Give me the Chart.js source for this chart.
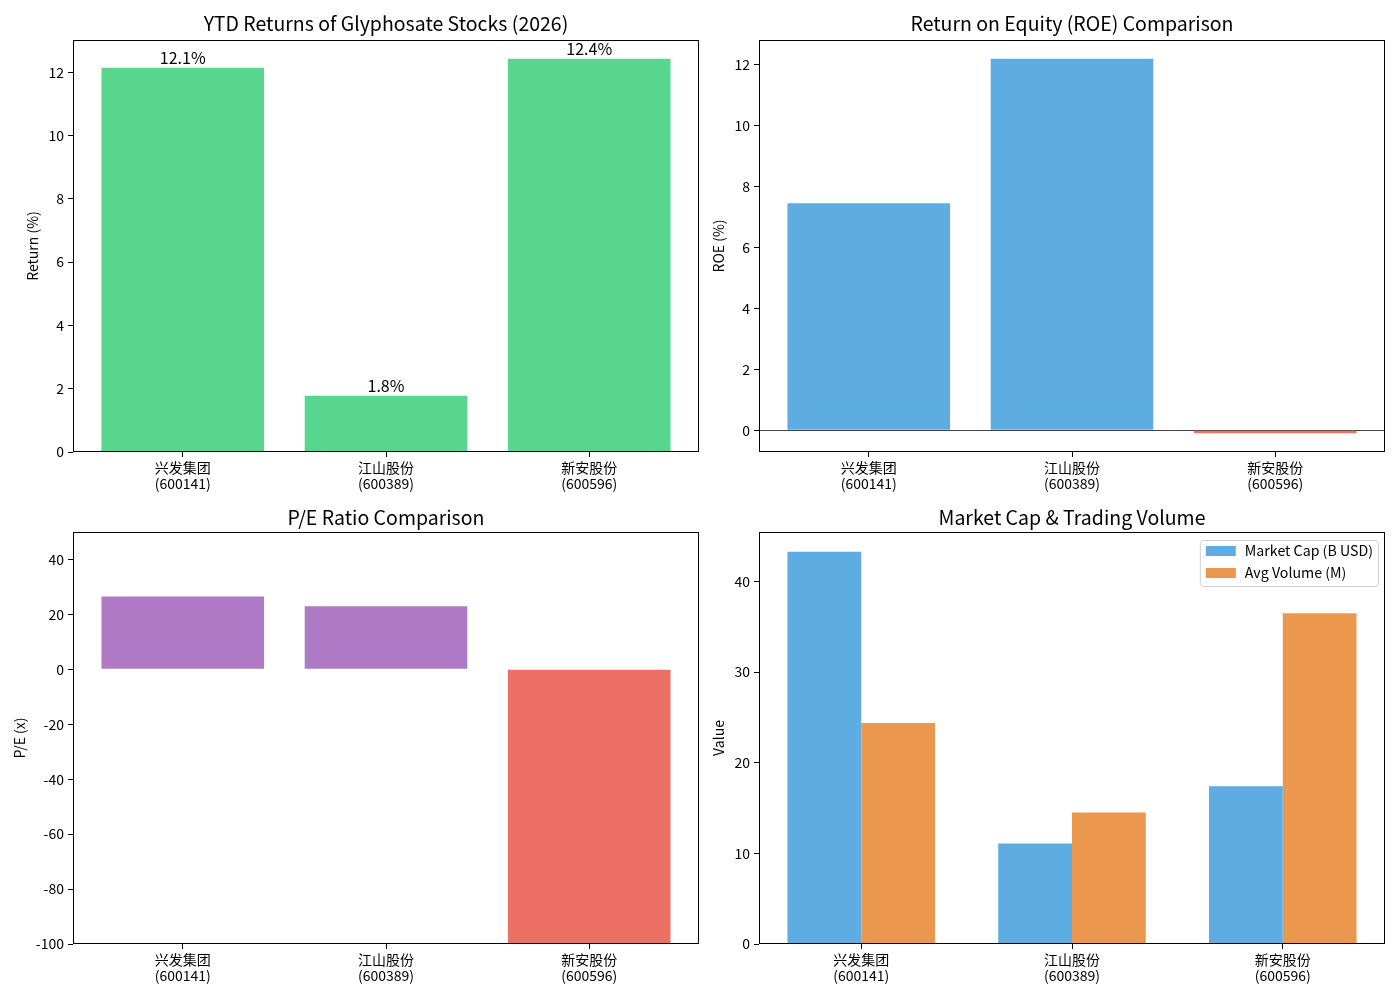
<!DOCTYPE html>
<html>
<head>
<meta charset="utf-8">
<script src="https://cdn.jsdelivr.net/npm/chart.js@4.4.0/dist/chart.umd.min.js"></script>
<style>
  body { margin: 0; background: #fff; }
  #figura { position: relative; width: 1400px; height: 1000px; background: #fff; }
  canvas { position: absolute; }
</style>
</head>
<body>
<div id="figura">
  <canvas id="cRetorno" width="700" height="500" style="left:0;top:0"></canvas>
  <canvas id="cRoe" width="700" height="500" style="left:700px;top:0"></canvas>
  <canvas id="cPe" width="700" height="500" style="left:0;top:500px"></canvas>
  <canvas id="cMercado" width="700" height="500" style="left:700px;top:500px"></canvas>
</div>
<script>
const empresas = [["兴发集团", "(600141)"], ["江山股份", "(600389)"], ["新安股份", "(600596)"]];
const retornoYtd = [12.14, 1.78, 12.43];
const roe = [7.45, 12.2, -0.1];
const pe = [26.5, 23.0, -150];
const marketCap = [43.3, 11.1, 17.4];
const avgVolume = [24.4, 14.5, 36.5];

const ticksRetorno = [0, 2, 4, 6, 8, 10, 12];
const ticksRoe = [0, 2, 4, 6, 8, 10, 12];
const ticksPe = [-100, -80, -60, -40, -20, 0, 20, 40];
const ticksMercado = [0, 10, 20, 30, 40];

const FONTE = '"Noto Sans CJK SC", "Noto Sans", sans-serif';
const VERDE = "#58D68D";
const AZUL = "#5DADE2";
const VERMELHO = "#EC7063";
const ROXO = "#AF7AC5";
const LARANJA = "#EB984E";

Chart.defaults.font.family = FONTE;
Chart.defaults.color = "#000";
Chart.defaults.animation = false;

function pontos(valores) {
  return valores.map((v, i) => ({ x: i, y: v }));
}

function eixoX(altura, xmin, xmax) {
  return {
    type: "linear",
    min: xmin,
    max: xmax,
    offset: false,
    grid: { display: true, offset: false, drawOnChartArea: false, drawTicks: true, tickLength: 5, tickColor: "#000" },
    border: { display: false },
    ticks: {
      autoSkip: false,
      maxRotation: 0,
      padding: 3,
      font: { size: 14, lineHeight: 1.15 },
      callback: (v) => empresas[v],
    },
    afterBuildTicks: (s) => {
      s.ticks = [0, 1, 2].map((v) => ({ value: v }));
    },
    afterFit: (s) => {
      s.height = altura;
    },
  };
}

function eixoY(min, max, valores, titulo, padTitulo, largura, linhaZero) {
  return {
    min,
    max,
    grid: {
      display: true,
      drawOnChartArea: linhaZero,
      drawTicks: true,
      tickLength: 5,
      tickColor: "#000",
      color: (ctx) => (ctx.tick && ctx.tick.value === 0 ? "#444" : "rgba(0,0,0,0)"),
      lineWidth: 1,
    },
    border: { display: false },
    ticks: { padding: 4, font: { size: 14 }, callback: (v) => String(v) },
    afterBuildTicks: (s) => {
      s.ticks = valores.map((v) => ({ value: v }));
    },
    title: {
      display: true,
      text: titulo,
      font: { size: 14, lineHeight: 1.2 },
      padding: { top: padTitulo, bottom: 0 },
    },
    afterFit: (s) => {
      s.width = largura;
    },
  };
}

function titulo(texto, padTop, padBottom) {
  return {
    display: true,
    text: texto,
    fullSize: false,
    color: "#000",
    font: { size: 19.5, weight: "normal", lineHeight: 1.2 },
    padding: { top: padTop, bottom: padBottom },
  };
}

// moldura preta em volta da area do grafico (como os spines do matplotlib)
const moldura = {
  id: "moldura",
  afterDatasetsDraw(chart) {
    const { ctx, chartArea: a } = chart;
    ctx.save();
    ctx.strokeStyle = "#000";
    ctx.lineWidth = 1;
    ctx.strokeRect(Math.round(a.left) + 0.5, Math.round(a.top) + 0.5, Math.round(a.width) - 1, Math.round(a.height) - 1);
    ctx.restore();
  },
};

const rotulos = {
  id: "rotulos",
  afterDatasetsDraw(chart) {
    const ctx = chart.ctx;
    const meta = chart.getDatasetMeta(0);
    ctx.save();
    ctx.font = "16px " + FONTE;
    ctx.fillStyle = "#000";
    ctx.textAlign = "center";
    ctx.textBaseline = "alphabetic";
    meta.data.forEach((barra, i) => {
      ctx.fillText(retornoYtd[i].toFixed(1) + "%", barra.x, barra.y - 4);
    });
    ctx.restore();
  },
};

const legendaInterna = {
  id: "legendaInterna",
  afterDatasetsDraw(chart) {
    const { ctx, chartArea: a } = chart;
    const sets = chart.data.datasets;
    ctx.save();
    ctx.font = "14.2px " + FONTE;
    const larguraTexto = Math.max(...sets.map((d) => ctx.measureText(d.label).width));
    const w = 6 + 30 + 9 + larguraTexto + 5;
    const h = 46;
    const x = a.right - 7 - w;
    const y = a.top + 8;
    ctx.beginPath();
    ctx.roundRect(x + 0.5, y + 0.5, w, h, 3);
    ctx.fillStyle = "rgba(255,255,255,0.8)";
    ctx.fill();
    ctx.strokeStyle = "#d0d0d0";
    ctx.lineWidth = 1;
    ctx.stroke();
    sets.forEach((d, i) => {
      const cy = y + 11 + i * 22;
      ctx.fillStyle = d.backgroundColor;
      ctx.fillRect(x + 6, cy - 5, 30, 10);
      ctx.fillStyle = "#000";
      ctx.textBaseline = "middle";
      ctx.fillText(d.label, x + 45, cy);
    });
    ctx.restore();
  },
};

const semExtras = { legend: { display: false }, tooltip: { enabled: false } };

new Chart(document.getElementById("cRetorno"), {
  type: "bar",
  data: {
    datasets: [
      { data: pontos(retornoYtd), backgroundColor: VERDE, barPercentage: 0.8, categoryPercentage: 1.0 },
    ],
  },
  options: {
    responsive: false,
    layout: { padding: { left: 0, right: 1, top: 0, bottom: 0 } },
    plugins: { ...semExtras, title: titulo("YTD Returns of Glyphosate Stocks (2026)", 12, 4.6) },
    scales: {
      x: eixoX(48, -0.54, 2.54),
      y: eixoY(0, 13.02, ticksRetorno, "Return (%)", 24.6, 73, false),
    },
  },
  plugins: [moldura, rotulos],
});

new Chart(document.getElementById("cRoe"), {
  type: "bar",
  data: {
    datasets: [
      {
        data: pontos(roe),
        backgroundColor: roe.map((v) => (v >= 0 ? AZUL : VERMELHO)),
        barPercentage: 0.8,
        categoryPercentage: 1.0,
      },
    ],
  },
  options: {
    responsive: false,
    layout: { padding: { left: 0, right: 15, top: 0, bottom: 0 } },
    plugins: { ...semExtras, title: titulo("Return on Equity (ROE) Comparison", 12, 4.6) },
    scales: {
      x: eixoX(48, -0.54, 2.54),
      y: eixoY(-0.715, 12.815, ticksRoe, "ROE (%)", 10.6, 59, true),
    },
  },
  plugins: [moldura],
});

new Chart(document.getElementById("cPe"), {
  type: "bar",
  data: {
    datasets: [
      {
        data: pontos(pe),
        backgroundColor: pe.map((v) => (v >= 0 ? ROXO : VERMELHO)),
        barPercentage: 0.8,
        categoryPercentage: 1.0,
      },
    ],
  },
  options: {
    responsive: false,
    layout: { padding: { left: 0, right: 1, top: 0, bottom: 0 } },
    plugins: { ...semExtras, title: titulo("P/E Ratio Comparison", 6, 2.6) },
    scales: {
      x: eixoX(56, -0.54, 2.54),
      y: eixoY(-100, 50, ticksPe, "P/E (x)", 11.6, 73, false),
    },
  },
  plugins: [moldura],
});

new Chart(document.getElementById("cMercado"), {
  type: "bar",
  data: {
    datasets: [
      { label: "Market Cap (B USD)", data: pontos(marketCap), backgroundColor: AZUL, barPercentage: 1.0, categoryPercentage: 0.7 },
      { label: "Avg Volume (M)", data: pontos(avgVolume), backgroundColor: LARANJA, barPercentage: 1.0, categoryPercentage: 0.7 },
    ],
  },
  options: {
    responsive: false,
    layout: { padding: { left: 0, right: 15, top: 0, bottom: 0 } },
    plugins: { ...semExtras, title: titulo("Market Cap & Trading Volume", 6, 2.6) },
    scales: {
      x: eixoX(56, -0.485, 2.485),
      y: eixoY(0, 45.47, ticksMercado, "Value", 10.6, 59, false),
    },
  },
  plugins: [moldura, legendaInterna],
});
</script>
</body>
</html>
